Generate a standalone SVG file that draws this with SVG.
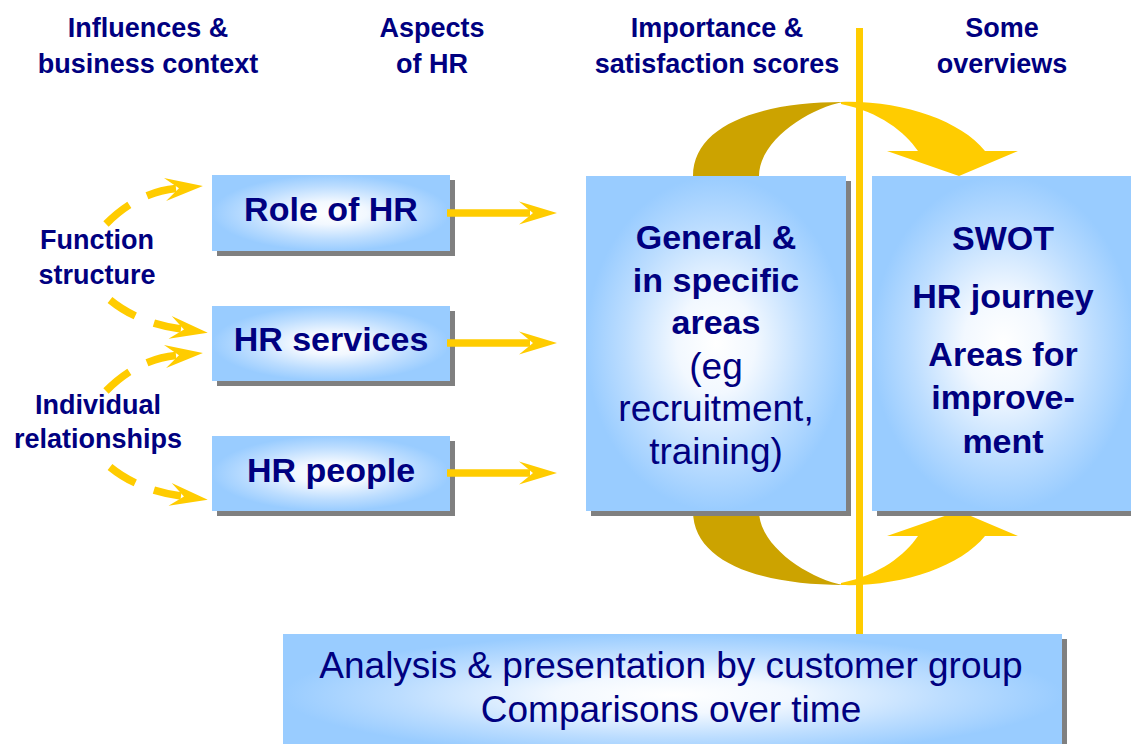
<svg xmlns="http://www.w3.org/2000/svg" width="1131" height="744" viewBox="0 0 1131 744">
<style>
.t{font-family:"Liberation Sans",Arial,sans-serif;fill:#000080;text-anchor:middle}
.hd{font-size:27px;font-weight:bold}
.bb{font-size:34px;font-weight:bold}
.br{font-size:37px;font-weight:normal}
.box{fill:url(#boxfill)}
.sh{fill:#808080}
.ar{fill:none;stroke:#FFCC00;stroke-width:7.5}
.dash{stroke-dasharray:30 20 300}
</style>
<defs>
<radialGradient id="boxfill" cx="0.5" cy="0.5" r="0.5">
<stop offset="0" stop-color="#FFFFFF"/>
<stop offset="0.3" stop-color="#F2F8FF"/>
<stop offset="0.7" stop-color="#BCDDFF"/>
<stop offset="1" stop-color="#99CCFF"/>
</radialGradient>
<marker id="ah" markerUnits="userSpaceOnUse" markerWidth="60" markerHeight="40" viewBox="-20 -20 60 40" refX="0" refY="0" orient="auto" overflow="visible">
<path d="M-11,-11.5 L27,0 L-11,11.5 L3,0 Z" fill="#FFCC00"/>
</marker>
<g id="bigarrow">
<path d="M693,176 C693,125 760,102 843,102 C810,108 759,140 759,176 Z" fill="#CCA300"/>
<path d="M841,102 C900,100 960,120 985,151 L1018,151 L959,176 L887,151 L918,151 C905,132 880,112 841,104 Z" fill="#FFCC00"/>
</g>
</defs>

<g id="headers">
<text class="t hd" x="148" y="37">Influences &amp;</text>
<text class="t hd" x="148" y="73">business context</text>
<text class="t hd" x="432" y="37">Aspects</text>
<text class="t hd" x="432" y="73">of HR</text>
<text class="t hd" x="717" y="37">Importance &amp;</text>
<text class="t hd" x="717" y="73">satisfaction scores</text>
<text class="t hd" x="1002" y="37">Some</text>
<text class="t hd" x="1002" y="73">overviews</text>
</g>

<g id="loop-arrows">
<use href="#bigarrow"/>
<use href="#bigarrow" transform="translate(0,687) scale(1,-1)"/>
</g>

<g id="influence-labels">
<text class="t hd" x="97" y="249">Function</text>
<text class="t hd" x="97" y="284">structure</text>
<text class="t hd" x="98" y="414">Individual</text>
<text class="t hd" x="98" y="448">relationships</text>
</g>

<g id="node-role">
<rect class="sh" x="217" y="180" width="238" height="76"/>
<rect class="box" x="212" y="175" width="238" height="76"/>
<text class="t bb" x="331" y="221">Role of HR</text>
</g>
<g id="node-services">
<rect class="sh" x="217" y="311" width="238" height="75"/>
<rect class="box" x="212" y="306" width="238" height="75"/>
<text class="t bb" x="331" y="351">HR services</text>
</g>
<g id="node-people">
<rect class="sh" x="217" y="441" width="238" height="75"/>
<rect class="box" x="212" y="436" width="238" height="75"/>
<text class="t bb" x="331" y="482">HR people</text>
</g>

<g id="node-scores">
<rect class="sh" x="591" y="181" width="260" height="335"/>
<rect class="box" x="586" y="176" width="260" height="335"/>
<text class="t bb" x="716" y="249">General &amp;</text>
<text class="t bb" x="716" y="292">in specific</text>
<text class="t bb" x="716" y="334">areas</text>
<text class="t br" x="716" y="379">(eg</text>
<text class="t br" x="716" y="421">recruitment,</text>
<text class="t br" x="716" y="464">training)</text>
</g>

<g id="node-overviews">
<rect class="sh" x="877" y="181" width="262" height="335"/>
<rect class="box" x="872" y="176" width="262" height="335"/>
<text class="t bb" x="1003" y="250">SWOT</text>
<text class="t bb" x="1003" y="308">HR journey</text>
<text class="t bb" x="1003" y="366">Areas for</text>
<text class="t bb" x="1003" y="409">improve-</text>
<text class="t bb" x="1003" y="453">ment</text>
</g>

<g id="connectors">
<path class="ar dash" d="M106,224 Q138,192 176,188.5" marker-end="url(#ah)"/>
<path class="ar dash" d="M110,300 Q138,323 181,329" marker-end="url(#ah)"/>
<path class="ar dash" d="M106,391 Q138,359 176,355.5" marker-end="url(#ah)"/>
<path class="ar dash" d="M110,467 Q138,490 181,496" marker-end="url(#ah)"/>
<path class="ar" d="M447,213 H530" marker-end="url(#ah)"/>
<path class="ar" d="M447,343 H530" marker-end="url(#ah)"/>
<path class="ar" d="M447,473 H530" marker-end="url(#ah)"/>
<rect x="856" y="28" width="7" height="606" fill="#FFCC00"/>
</g>

<g id="node-analysis">
<rect class="sh" x="288" y="639" width="779" height="122"/>
<rect class="box" x="283" y="634" width="779" height="122"/>
<text class="t br" x="671" y="678">Analysis &amp; presentation by customer group</text>
<text class="t br" x="671" y="722">Comparisons over time</text>
</g>
</svg>
